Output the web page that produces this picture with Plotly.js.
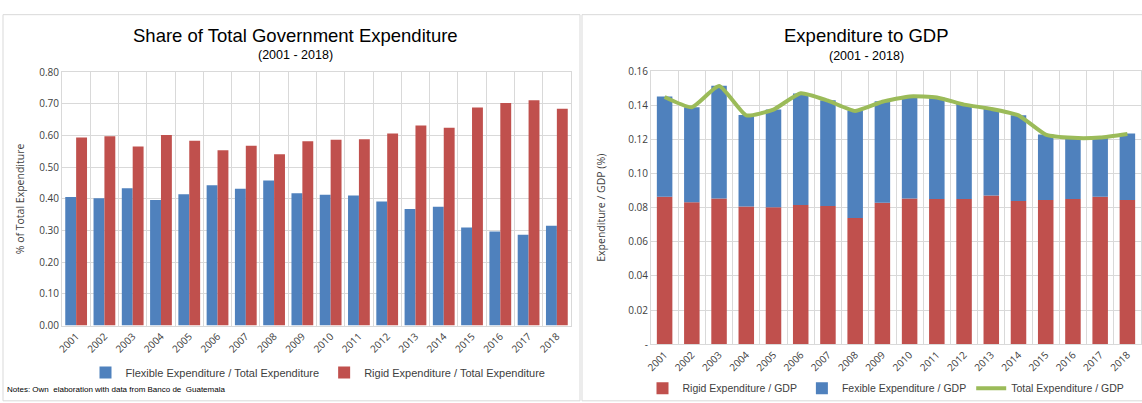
<!DOCTYPE html>
<html>
<head>
<meta charset="utf-8">
<script src="https://cdn.plot.ly/plotly-3.0.1.min.js"></script>
<style>
  html, body { margin: 0; padding: 0; background: #fff; }
  #chart { width: 1142px; height: 403px; }
</style>
</head>
<body>
<div id="chart"></div>
<script>
// ── Data ──────────────────────────────────────────────────────────────────
const YEARS = ['2001','2002','2003','2004','2005','2006','2007','2008','2009',
               '2010','2011','2012','2013','2014','2015','2016','2017','2018'];

// share of total government expenditure
const FLEX_SHARE  = [0.406, 0.402, 0.434, 0.397, 0.415, 0.443, 0.432, 0.458, 0.418,
                     0.413, 0.411, 0.392, 0.368, 0.375, 0.310, 0.297, 0.287, 0.315];
const RIGID_SHARE = [0.594, 0.598, 0.566, 0.602, 0.584, 0.554, 0.568, 0.541, 0.582,
                     0.587, 0.589, 0.607, 0.632, 0.625, 0.689, 0.703, 0.712, 0.685];

// expenditure to GDP
const RIGID_GDP = [0.0864, 0.0833, 0.0854, 0.0807, 0.0803, 0.0816, 0.0811, 0.0740, 0.0830,
                   0.0854, 0.0851, 0.0851, 0.0872, 0.0839, 0.0845, 0.0851, 0.0864, 0.0845];
const FLEX_GDP  = [0.0589, 0.0557, 0.0662, 0.0537, 0.0573, 0.0654, 0.0619, 0.0631, 0.0594,
                   0.0599, 0.0596, 0.0558, 0.0508, 0.0503, 0.0384, 0.0361, 0.0348, 0.0390];
const TOTAL_GDP = [0.1450, 0.1390, 0.1514, 0.1342, 0.1376, 0.1472, 0.1428, 0.1368, 0.1422,
                   0.1453, 0.1447, 0.1405, 0.1380, 0.1342, 0.1229, 0.1210, 0.1212, 0.1233];

const LEFT_TICKS  = [0, 0.1, 0.2, 0.3, 0.4, 0.5, 0.6, 0.7, 0.8];
const RIGHT_TICKS = [0, 0.02, 0.04, 0.06, 0.08, 0.10, 0.12, 0.14, 0.16];
const RIGHT_TICKTEXT = ['-', '0.02', '0.04', '0.06', '0.08', '0.10', '0.12', '0.14', '0.16'];

// ── Style ────────────────────────────────────────────────────────────────
const BLUE  = '#4F81BD';
const RED   = '#C0504D';
const GREEN = '#9BBB59';
const GRID  = '#D9D9D9';
const TEXT  = '#404040';
const W = 1142, H = 403;
const px = v => v / W;
const py = v => 1 - v / H;
const BODY = 'Open Sans, Noto Sans, sans-serif';
const HEAD = 'Liberation Sans, Arial, sans-serif';

const traces = [
  { x: YEARS, y: FLEX_SHARE, type: 'bar', name: 'Flexible Expenditure / Total Expenditure',
    marker: { color: BLUE }, xaxis: 'x', yaxis: 'y', legend: 'legend' },
  { x: YEARS, y: RIGID_SHARE, type: 'bar', name: 'Rigid Expenditure / Total Expenditure',
    marker: { color: RED }, xaxis: 'x', yaxis: 'y', legend: 'legend' },

  // right panel: stacked by hand (same offsetgroup + base)
  { x: YEARS, y: RIGID_GDP, type: 'bar', name: 'Rigid Expenditure / GDP', offsetgroup: 'gdp',
    width: 0.57, marker: { color: RED }, xaxis: 'x2', yaxis: 'y2', legend: 'legend2' },
  { x: YEARS, y: FLEX_GDP, base: RIGID_GDP, type: 'bar', name: 'Fexible Expenditure / GDP',
    offsetgroup: 'gdp', width: 0.57,
    marker: { color: BLUE }, xaxis: 'x2', yaxis: 'y2', legend: 'legend2' },
  { x: YEARS, y: TOTAL_GDP, type: 'scatter', mode: 'lines', name: 'Total Expenditure / GDP',
    line: { color: GREEN, width: 4, shape: 'spline', smoothing: 0.5 },
    xaxis: 'x2', yaxis: 'y2', legend: 'legend2' },
];

function xAxis(domain, anchor) {
  return {
    domain: domain, anchor: anchor, type: 'category',
    tickson: 'boundaries', ticks: '', tickangle: -45,
    showgrid: true, gridcolor: GRID, gridwidth: 1,
    showline: true, linecolor: GRID, mirror: true,
    tickfont: { family: BODY, size: 10, color: TEXT },
  };
}
function yAxis(domain, anchor, vals, text, title, standoff) {
  return {
    domain: domain, anchor: anchor, range: [0, vals[vals.length - 1]],
    tickvals: vals, ticktext: text, ticks: '',
    showgrid: true, gridcolor: GRID, zeroline: false,
    showline: true, linecolor: GRID, mirror: true,
    tickfont: { family: BODY, size: 10, color: TEXT },
    title: { text: title, standoff: standoff, font: { family: BODY, size: 10.5, color: TEXT } },
  };
}

const layout = {
  width: W, height: H,
  margin: { t: 0, r: 0, b: 0, l: 0 },
  paper_bgcolor: '#fff', plot_bgcolor: '#fff',
  barmode: 'group', bargap: 0.23, bargroupgap: 0,
  font: { family: BODY, color: TEXT },

  xaxis:  xAxis([px(62), px(571)], 'y'),
  yaxis:  yAxis([py(333), py(74)], 'x', LEFT_TICKS, LEFT_TICKS.map(v => v.toFixed(2)),
                '% of Total Expenditure', 12),
  xaxis2: xAxis([px(651), px(1141)], 'y2'),
  yaxis2: yAxis([py(352), py(73)], 'x2', RIGHT_TICKS, RIGHT_TICKTEXT,
                'Expenditure / GDP (%)', 20),

  legend: {
    orientation: 'h', x: px(318), xanchor: 'center', y: py(381), yanchor: 'middle',
    font: { family: HEAD, size: 11, color: TEXT }, itemwidth: 30, traceorder: 'normal',
    bgcolor: 'rgba(0,0,0,0)',
  },
  legend2: {
    orientation: 'h', x: px(886), xanchor: 'center', y: py(397), yanchor: 'middle',
    font: { family: HEAD, size: 10.5, color: TEXT }, itemwidth: 30, traceorder: 'normal',
    bgcolor: 'rgba(0,0,0,0)',
  },

  annotations: [
    { text: 'Share of Total Government Expenditure', xref: 'paper', yref: 'paper',
      x: px(295), y: py(36), xanchor: 'center', yanchor: 'middle', showarrow: false,
      font: { family: HEAD, size: 18.5, color: '#000' } },
    { text: '(2001 - 2018)', xref: 'paper', yref: 'paper',
      x: px(295), y: py(56), xanchor: 'center', yanchor: 'middle', showarrow: false,
      font: { family: HEAD, size: 12.5, color: '#000' } },
    { text: 'Expenditure to GDP', xref: 'paper', yref: 'paper',
      x: px(866), y: py(36), xanchor: 'center', yanchor: 'middle', showarrow: false,
      font: { family: HEAD, size: 18.5, color: '#000' } },
    { text: '(2001 - 2018)', xref: 'paper', yref: 'paper',
      x: px(866), y: py(57), xanchor: 'center', yanchor: 'middle', showarrow: false,
      font: { family: HEAD, size: 12.5, color: '#000' } },
    { text: 'Notes: Own  elaboration with data from Banco de  Guatemala', xref: 'paper', yref: 'paper',
      x: px(5), y: py(398), xanchor: 'left', yanchor: 'middle', showarrow: false,
      font: { family: HEAD, size: 8, color: '#000' } },
  ],

  // chart-area frames
  shapes: [
    { type: 'rect', xref: 'paper', yref: 'paper', x0: px(3), x1: px(580), y0: py(410), y1: py(15),
      line: { color: '#D9D9D9', width: 1 } },
    { type: 'rect', xref: 'paper', yref: 'paper', x0: px(582), x1: px(1146), y0: py(410), y1: py(15),
      line: { color: '#D9D9D9', width: 1 } },
  ],
};

Plotly.newPlot('chart', traces, layout, { displayModeBar: false, staticPlot: true });
</script>
</body>
</html>
